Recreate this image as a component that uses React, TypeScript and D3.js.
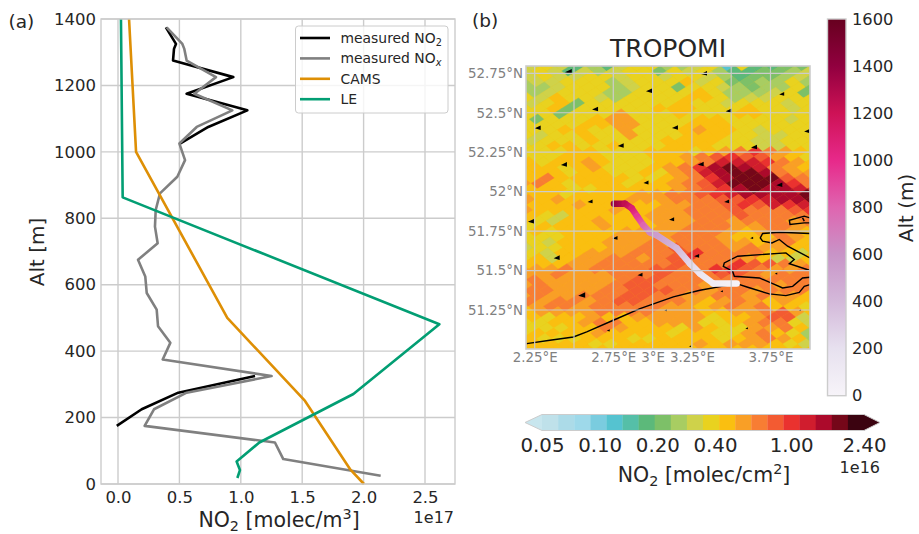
import React, { useEffect, useRef } from 'react';
import * as d3 from 'd3';

// profile values, NO2 in units of 1e17 molec/m3
const measuredAlt = [1375, 1325, 1310, 1275, 1225, 1175, 1125, 1075, 1025, 975, 925, 875, 825, 775, 725, 675, 625, 575, 525, 475, 425, 375, 325, 275, 225, 175, 125, 75, 25];
const measuredNOx = [0.396, 0.524, 0.54, 0.559, 0.798, 0.622, 0.931, 0.641, 0.5, 0.546, 0.483, 0.342, 0.307, 0.301, 0.323, 0.163, 0.222, 0.234, 0.315, 0.326, 0.426, 0.364, 1.251, 0.559, 0.293, 0.217, 1.278, 1.346, 2.139];
const measuredNO2 = [0.39, 0.472, 0.456, 0.448, 0.939, 0.559, 1.053, 0.735, 0.505, null, null, null, null, null, null, null, null, null, null, null, null, null, 1.116, 0.491, 0.193, -0.01, null, null, null];
const camsAlt = [1400, 1000, 500, 250, 45, 0];
const camsNO2 = [0.09, 0.147, 0.89, 1.523, 1.889, 2.003];
const leAlt = [1400, 863, 481, 271, 125, 68, 42, 18];
const leNO2 = [0.024, 0.038, 2.617, 1.917, 1.151, 0.966, 0.993, 0.972];
const profileXTicks = [0, 0.5, 1, 1.5, 2, 2.5];
const profileYTicks = [0, 200, 400, 600, 800, 1000, 1200, 1400];

// TROPOMI colour levels, one char per pixel (base 20 index into no2Colors)
const no2Colors = ['#bfe1ea', '#acdbe8', '#9ed9ea', '#7accdf', '#55c3d0', '#55bfa8', '#5cb97a', '#7dc068', '#a8cd62', '#cfd24a', '#e9d21f', '#fabf10', '#f99f26', '#f87d33', '#f35b32', '#ea322f', '#d01d2e', '#ac0a2b', '#750719', '#3b0310'];
const tropomiRows = [
  '9a96869aa889a4a667799',
  '9a96989aa7a9a86677899',
  '9a99aa9aa9aa98677898a9',
  '899aaa89aaab9a7788a89a',
  '889aaa89aa7aa98788a7a9',
  '989aaa88aaaaba8889a7a',
  'a9baa98aaaabba899aaaa',
  '9ab7aaaaaabaa9aaa9a9a',
  'aab7aaaaabbbaaabaa9aa',
  'aa7aaacaaabaaabbaaa9a',
  'a7aaabccaaaabbaaaa9aa',
  'aaaabbccaaabbbaaaaaaa',
  'aaabbaacaaabcbba9aaab',
  'a9aabaacaaabbbaa99aab',
  '9aaabaaaabbbbaa99aabb',
  'aabbaabaaabbbaaa99aaa',
  'aaabbaaabbbabcdfdcbaa',
  'aaabbbaaabbcdefeecbaa',
  'babbcbaaabbcdgggfdcba',
  'abbabcaaabcdfhihgdcba',
  'bbbabbaabacdghiihdccb',
  'bdbbbbbaabcdfhiiiedcc',
  'cdbabbbabbcdegiiihfdc',
  'bbbaabbbbbcdefhihhggf',
  'bbbabbbbccddefghhhhii',
  'cbcbbbbcccdddeefghhij',
  'bbbcbbcbbccddefegfghi',
  'cbbbbbcbbccdddedddefg',
  'ba9bbbbbcccdddeddddef',
  'ba9bbcbbbcccddcdddcde',
  'abbbbcbbbccdddccddccd',
  'ababbbbccccdddcbcdcbc',
  'aaabbbccccdddcbbbdcbc',
  'a9bbbcccdcdddccbcdbbb',
  '9aabbbccddedddcdccbba',
  'a9bbcccdddefddddbb9ab',
  'ab9bccddcdefdddcb99bc',
  'bbbccdddddedddfeedcbc',
  'cccdcddddeeddffedccdc',
  'ccdcccdddedddeedcddde',
  'dcccccdeedddddddddded',
  'cdccccdeedddcddddcddd',
  'ddcccddeeeddcddcdddcc',
  'cdccdddeeddccddcdccbc',
  'dcddcdeedddcbcdcbcbba',
  'ccddcdddddccbcdcdbbaa',
  'bccccddddcccbbccdecbb',
  'babbcbbcccccabbcee9bb',
  'aabbcddbbcccaabcdda9b',
  'aaabbdcbbbacbaaccdbab',
  'abbbbcbbbbabbaacdba8a',
  'baaabbbaabbbbabcdcb8a',
  'cbbbbaabbbbbcbcccba9b',
];

const lonTicks = [2.25, 2.75, 3, 3.25, 3.75];
const lonGrid = [2.25, 2.5, 2.75, 3, 3.25, 3.5, 3.75];
const latTicks = [52.75, 52.5, 52.25, 52, 51.75, 51.5, 51.25];

const trackLon = [2.754, 2.824, 2.867, 2.901, 2.941, 2.983, 3.026, 3.153, 3.238, 3.301, 3.386, 3.535];
const trackLat = [51.924, 51.924, 51.895, 51.845, 51.787, 51.743, 51.724, 51.642, 51.544, 51.481, 51.418, 51.418];
const trackAlt = [1375, 1250, 1100, 950, 800, 650, 550, 400, 250, 150, 75, 25];

const coastlines: [number, number][][] = [
  [[2.199, 51.037], [2.347, 51.058], [2.496, 51.079], [2.581, 51.111], [2.75, 51.185], [2.92, 51.259], [3.132, 51.333], [3.301, 51.375], [3.535, 51.417], [3.605, 51.394], [3.742, 51.352], [3.848, 51.341], [3.933, 51.362], [3.965, 51.4], [4.001, 51.411]],
  [[3.997, 51.502], [3.87, 51.544], [3.901, 51.57], [3.848, 51.612], [3.541, 51.591], [3.456, 51.548], [3.45, 51.527], [3.509, 51.496], [3.52, 51.464], [3.679, 51.453], [3.764, 51.417], [3.827, 51.39], [3.891, 51.4], [3.954, 51.453], [4.001, 51.458]],
  [[4.001, 51.58], [3.901, 51.633], [3.859, 51.654], [3.806, 51.697], [3.759, 51.675], [3.7, 51.686], [3.685, 51.707], [3.7, 51.735], [3.806, 51.743], [4.001, 51.735]],
  [[4.001, 51.834], [3.965, 51.845], [3.87, 51.819], [3.874, 51.792], [3.965, 51.802], [4.001, 51.802]],
  [[3.954, 51.834], [3.965, 51.813]],
];

// wind arrows: lon, lat, arrow length
const windLon = [2.464, 3.327, 2.977, 3.821, 2.634, 3.484, 2.269, 3.142, 3.98, 2.797, 3.645, 2.436, 3.306, 2.958, 3.806, 2.602, 3.471, 2.226, 3.121, 2.761, 3.63, 2.39, 3.28, 2.92, 3.785, 2.549, 3.439, 3.083, 3.937, 2.718, 3.598, 3.238];
const windLat = [52.761, 52.75, 52.64, 52.619, 52.524, 52.513, 52.405, 52.407, 52.384, 52.293, 52.283, 52.173, 52.175, 52.058, 52.044, 51.938, 51.938, 51.813, 51.825, 51.707, 51.707, 51.582, 51.593, 51.474, 51.481, 51.345, 51.369, 51.248, 51.248, 51.121, 51.134, 51.02];
const windLen = [7, 6, 6, 5, 6, 6, 6, 6, 5, 6, 6, 6, 6, 5, 6, 5, 5, 6, 5, 5, 3, 6, 5, 5, 2.5, 7, 2.5, 2.5, 2, 3, 2.5, 2];

const altStops = [0, 200, 400, 600, 800, 1000, 1200, 1400, 1600];
const altColors = ['#f7f4f9', '#e7e1ef', '#d4b9da', '#c994c7', '#df65b0', '#e7298a', '#ce1256', '#91003f', '#67001f'];
const no2ColorTicks = [0.05, 0.1, 0.2, 0.4, 1, 2.4];

const FONT = '"DejaVu Sans", sans-serif';
const INK = '#262626';
const GRID = '#cccccc';

type Part = { t: string; sub?: boolean; sup?: boolean; italic?: boolean };

function richText(sel: any, parts: Part[], size: number) {
  parts.forEach((p, i) => {
    const prev = parts[i - 1];
    let dy = 0;
    if (p.sub) dy = size * 0.2;
    if (p.sup) dy = -size * 0.36;
    if (prev && prev.sub) dy -= size * 0.2;
    if (prev && prev.sup) dy += size * 0.36;
    const ts = sel.append('tspan').text(p.t).attr('dy', dy);
    if (p.sub || p.sup) ts.attr('font-size', size * 0.7);
    if (p.italic) ts.attr('font-style', 'italic');
  });
}

function drawProfile(svg: any) {
  const x = d3.scaleLinear().domain([0, 2.5]).range([118, 425]);
  const y = d3.scaleLinear().domain([0, 1400]).range([484, 19]);
  const g = svg.append('g');

  profileXTicks.forEach((v) => {
    g.append('line').attr('x1', x(v)).attr('x2', x(v)).attr('y1', 19).attr('y2', 484).attr('stroke', GRID).attr('stroke-width', 1.4);
  });
  profileYTicks.forEach((v) => {
    g.append('line').attr('x1', 101).attr('x2', 455).attr('y1', y(v)).attr('y2', y(v)).attr('stroke', GRID).attr('stroke-width', 1.4);
  });

  const line = d3.line<[number, number | null]>()
    .defined((d) => d[1] !== null)
    .x((d) => x(d[1] as number))
    .y((d) => y(d[0]));
  const series: [number[], (number | null)[], string][] = [
    [measuredAlt, measuredNO2, '#000000'],
    [measuredAlt, measuredNOx, '#808080'],
    [camsAlt, camsNO2, '#de8f05'],
    [leAlt, leNO2, '#029e73'],
  ];
  series.forEach(([alt, val, color]) => {
    g.append('path')
      .attr('d', line(alt.map((a, i) => [a, val[i]] as [number, number | null])))
      .attr('fill', 'none').attr('stroke', color).attr('stroke-width', 2.6).attr('stroke-linejoin', 'round');
  });

  g.append('rect').attr('x', 101).attr('y', 19).attr('width', 354).attr('height', 465)
    .attr('fill', 'none').attr('stroke', GRID).attr('stroke-width', 1.4);

  const xAxis = g.append('g').attr('transform', 'translate(0,484)')
    .call(d3.axisBottom(x).tickValues(profileXTicks).tickSize(0).tickPadding(7).tickFormat(d3.format('.1f') as any));
  const yAxis = g.append('g').attr('transform', 'translate(101,0)')
    .call(d3.axisLeft(y).tickValues(profileYTicks).tickSize(0).tickPadding(5).tickFormat(d3.format('d') as any));
  [xAxis, yAxis].forEach((a) => {
    a.select('.domain').remove();
    a.selectAll('text').attr('font-size', 16.5).attr('font-family', FONT).attr('fill', INK);
  });

  const xLabel = g.append('text').attr('x', 279).attr('y', 526.5).attr('text-anchor', 'middle')
    .attr('font-size', 20.5).attr('font-family', FONT).attr('fill', INK);
  richText(xLabel, [{ t: 'NO' }, { t: '2', sub: true }, { t: ' [molec/m' }, { t: '3', sup: true }, { t: ']' }], 20.5);

  g.append('text').attr('x', 454).attr('y', 523).attr('text-anchor', 'end')
    .attr('font-size', 16).attr('font-family', FONT).attr('fill', INK).text('1e17');
  g.append('text').attr('transform', 'translate(44,252) rotate(-90)').attr('text-anchor', 'middle')
    .attr('font-size', 20).attr('font-family', FONT).attr('fill', INK).text('Alt [m]');
  g.append('text').attr('x', 8.5).attr('y', 28).attr('font-size', 18.5).attr('font-family', FONT).attr('fill', INK).text('(a)');

  // legend
  const lg = g.append('g');
  lg.append('rect').attr('x', 295.5).attr('y', 26).attr('width', 152.5).attr('height', 87).attr('rx', 3)
    .attr('fill', 'rgba(255,255,255,0.8)').attr('stroke', GRID);
  const entries: [Part[], string][] = [
    [[{ t: 'measured NO' }, { t: '2', sub: true }], '#000000'],
    [[{ t: 'measured NO' }, { t: 'x', sub: true, italic: true }], '#808080'],
    [[{ t: 'CAMS' }], '#de8f05'],
    [[{ t: 'LE' }], '#029e73'],
  ];
  entries.forEach(([parts, color], i) => {
    const ly = 38 + i * 20.4;
    lg.append('line').attr('x1', 300).attr('x2', 330).attr('y1', ly).attr('y2', ly).attr('stroke', color).attr('stroke-width', 2.6);
    const t = lg.append('text').attr('x', 340.5).attr('y', ly + 5).attr('font-size', 13.9).attr('font-family', FONT).attr('fill', INK);
    richText(t, parts, 13.9);
  });
}

function drawMap(svg: any) {
  const lon = d3.scaleLinear().domain([2.25, 3.75]).range([534.7, 770.5]);
  const lat = d3.scaleLinear().domain([52.75, 51.25]).range([73.3, 310]);
  const left = 526, right = 810, top = 66, bottom = 349;
  const defs = svg.append('defs');
  defs.append('clipPath').attr('id', 'mapClip').append('rect')
    .attr('x', left).attr('y', top).attr('width', right - left).attr('height', bottom - top);

  const g = svg.append('g');
  const map = g.append('g').attr('clip-path', 'url(#mapClip)');
  map.append('rect').attr('x', left).attr('y', top).attr('width', right - left).attr('height', bottom - top).attr('fill', no2Colors[11]);

  // satellite pixels sit on a slanted lattice, each row starts just left of the map
  const lonStep = 0.0954, latStep = 0.0339, slant = 0.007, lon0 = 2.1502, lat0 = 52.797;
  tropomiRows.forEach((row, r) => {
    const phase = (((r % 2) * lonStep) / 2 + slant * (26 - r) + lonStep * 10) % lonStep;
    row.split('').forEach((ch, c) => {
      const cLon = lon0 + phase + c * lonStep;
      const cLat = lat0 - r * latStep;
      const pts = [
        [cLon - lonStep / 2, cLat],
        [cLon + slant, cLat + latStep],
        [cLon + lonStep / 2, cLat],
        [cLon - slant, cLat - latStep],
      ].map(([a, b]) => [lon(a), lat(b)].join(','));
      const color = no2Colors[parseInt(ch, 20)];
      map.append('polygon').attr('points', pts.join(' ')).attr('fill', color).attr('stroke', color).attr('stroke-width', 0.4);
    });
  });

  const coast = d3.line<[number, number]>().x((d) => lon(d[0])).y((d) => lat(d[1]));
  coastlines.forEach((c) => {
    map.append('path').attr('d', coast(c)).attr('fill', 'none').attr('stroke', '#000').attr('stroke-width', 1.4);
  });

  windLon.forEach((w, i) => {
    const cx = lon(w), cy = lat(windLat[i]), len = windLen[i];
    map.append('polygon')
      .attr('points', `${cx - len / 2},${cy + len * 0.1} ${cx + len / 2},${cy - len * 0.38} ${cx + len / 2},${cy + len * 0.38}`)
      .attr('fill', '#000');
  });

  // flight track coloured by altitude, each leg fades between its two end colours
  const altColor = d3.scaleLinear<string>().domain(altStops).range(altColors);
  const trackDefs = defs.append('g');
  trackLon.slice(1).forEach((_, i) => {
    const id = `leg${i}`;
    const grad = trackDefs.append('linearGradient').attr('id', id).attr('gradientUnits', 'userSpaceOnUse')
      .attr('x1', lon(trackLon[i])).attr('y1', lat(trackLat[i]))
      .attr('x2', lon(trackLon[i + 1])).attr('y2', lat(trackLat[i + 1]));
    grad.append('stop').attr('offset', 0).attr('stop-color', altColor(trackAlt[i]));
    grad.append('stop').attr('offset', 1).attr('stop-color', altColor(trackAlt[i + 1]));
    map.append('line')
      .attr('x1', lon(trackLon[i])).attr('y1', lat(trackLat[i]))
      .attr('x2', lon(trackLon[i + 1])).attr('y2', lat(trackLat[i + 1]))
      .attr('stroke', `url(#${id})`)
      .attr('stroke-width', 6.5).attr('stroke-linecap', 'round');
  });

  lonGrid.forEach((v) => {
    g.append('line').attr('x1', lon(v)).attr('x2', lon(v)).attr('y1', top).attr('y2', bottom).attr('stroke', GRID).attr('stroke-width', 1.2);
  });
  latTicks.forEach((v) => {
    g.append('line').attr('x1', left).attr('x2', right).attr('y1', lat(v)).attr('y2', lat(v)).attr('stroke', GRID).attr('stroke-width', 1.2);
  });
  g.append('rect').attr('x', left).attr('y', top).attr('width', right - left).attr('height', bottom - top)
    .attr('fill', 'none').attr('stroke', GRID).attr('stroke-width', 1.6);

  const xAxis = g.append('g').attr('transform', `translate(0,${bottom})`)
    .call(d3.axisBottom(lon).tickValues(lonTicks).tickSize(0).tickPadding(3).tickFormat((d: any) => `${d}°E`));
  const yAxis = g.append('g').attr('transform', `translate(${left},0)`)
    .call(d3.axisLeft(lat).tickValues(latTicks).tickSize(0).tickPadding(3).tickFormat((d: any) => `${d}°N`));
  [xAxis, yAxis].forEach((a) => {
    a.select('.domain').remove();
    a.selectAll('text').attr('font-size', 13.4).attr('font-family', FONT).attr('fill', '#808080');
  });

  g.append('text').attr('x', 668).attr('y', 57).attr('text-anchor', 'middle')
    .attr('font-size', 25).attr('font-family', FONT).attr('fill', INK).text('TROPOMI');
  g.append('text').attr('x', 472).attr('y', 27).attr('font-size', 18.5).attr('font-family', FONT).attr('fill', INK).text('(b)');
}

function drawColorbars(svg: any) {
  // altitude colourbar
  const altY = d3.scaleLinear().domain([0, 1600]).range([395.7, 19]);
  const altColor = d3.scaleLinear<string>().domain(altStops).range(altColors);
  const grad = svg.append('defs').append('linearGradient').attr('id', 'altGrad')
    .attr('x1', 0).attr('x2', 0).attr('y1', 1).attr('y2', 0);
  altStops.forEach((v) => {
    grad.append('stop').attr('offset', v / 1600).attr('stop-color', altColor(v));
  });
  const g = svg.append('g');
  g.append('rect').attr('x', 827.5).attr('y', 19).attr('width', 18.5).attr('height', 376.7)
    .attr('fill', 'url(#altGrad)').attr('stroke', GRID).attr('stroke-width', 1.4);
  const altAxis = g.append('g').attr('transform', 'translate(846,0)')
    .call(d3.axisRight(altY).tickValues(altStops).tickSize(0).tickPadding(6).tickFormat(d3.format('d') as any));
  altAxis.select('.domain').remove();
  altAxis.selectAll('text').attr('font-size', 16.3).attr('font-family', FONT).attr('fill', INK);
  g.append('text').attr('transform', 'translate(913,208) rotate(-90)').attr('text-anchor', 'middle')
    .attr('font-size', 20).attr('font-family', FONT).attr('fill', INK).text('Alt (m)');

  // NO2 colourbar with log ticks
  const left = 542, right = 864, top = 414.5, bottom = 430.5;
  const scale = d3.scaleLog().domain([0.05, 2.4]).range([left, right]);
  const band = d3.scaleLinear().domain([0, no2Colors.length]).range([left, right]);
  const mid = (top + bottom) / 2;
  no2Colors.forEach((c, i) => {
    g.append('rect').attr('x', band(i)).attr('y', top).attr('width', band(i + 1) - band(i) + 0.3).attr('height', bottom - top).attr('fill', c);
  });
  g.append('polygon').attr('points', `${left},${top} ${left},${bottom} 525,${mid}`).attr('fill', '#c8e6ee');
  g.append('polygon').attr('points', `${right},${top} ${right},${bottom} 880,${mid}`).attr('fill', no2Colors[19]);
  g.append('path').attr('d', `M${left},${top} L525,${mid} L${left},${bottom} L${right},${bottom} L880,${mid} L${right},${top} Z`)
    .attr('fill', 'none').attr('stroke', GRID).attr('stroke-width', 1);

  const no2Axis = g.append('g').attr('transform', `translate(0,${bottom})`)
    .call(d3.axisBottom(scale).tickValues(no2ColorTicks).tickSize(0).tickPadding(7).tickFormat(d3.format('.2f') as any));
  no2Axis.select('.domain').remove();
  no2Axis.selectAll('text').attr('font-size', 19.8).attr('font-family', FONT).attr('fill', INK);

  const label = g.append('text').attr('x', 704).attr('y', 481.5).attr('text-anchor', 'middle')
    .attr('font-size', 20.5).attr('font-family', FONT).attr('fill', INK);
  richText(label, [{ t: 'NO' }, { t: '2', sub: true }, { t: ' [molec/cm' }, { t: '2', sup: true }, { t: ']' }], 20.5);
  g.append('text').attr('x', 880).attr('y', 472.5).attr('text-anchor', 'end')
    .attr('font-size', 16).attr('font-family', FONT).attr('fill', INK).text('1e16');
}

export default function App() {
  const ref = useRef<SVGSVGElement>(null);

  useEffect(() => {
    const svg = d3.select(ref.current);
    svg.selectAll('*').remove();
    drawProfile(svg);
    drawMap(svg);
    drawColorbars(svg);
  }, []);

  return (
    <svg
      ref={ref}
      width={919}
      height={534}
      style={{ position: 'absolute', left: 0, top: 0, background: '#fff' }}
    />
  );
}
